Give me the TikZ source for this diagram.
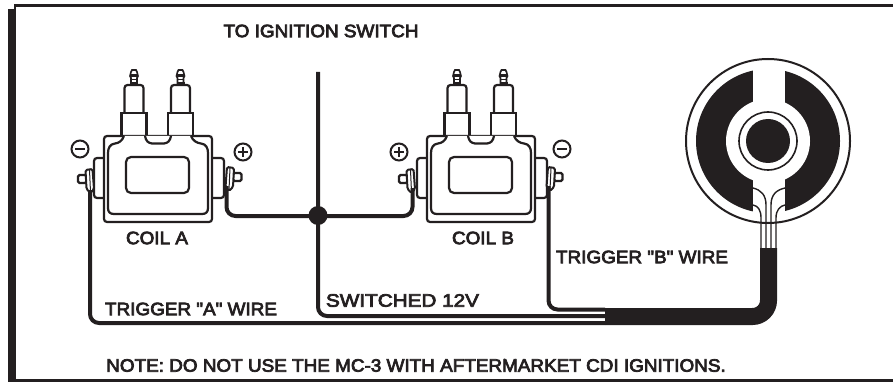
\documentclass[tikz,border=0pt]{standalone}
\usepackage{fontspec}
\setmainfont[Ligatures=NoCommon,Mapping=,RawFeature={embolden=4},FakeStretch=1.05]{Liberation Sans}
\definecolor{inkblack}{HTML}{231F20}
\tikzset{
    wire/.style={draw=inkblack,line width=4pt,rounded corners=9pt},
    part/.style={draw=inkblack,line width=2.2pt,fill=white},
    lbl/.style={text=inkblack,font=\fontsize{18}{18}\selectfont,inner sep=0pt,anchor=center},
}
\newcommand{\coilscrew}[3]{
    \begin{scope}[shift={(#1,#2)},xscale=#3]
        \draw[part,rounded corners=1.5pt] (-11.5,6) rectangle (-3,14);
        \draw[part,line width=2pt,rounded corners=1.5pt] (-4,1) -- (3,0) -- (4.5,20) -- (1,24) -- (-3,20) -- cycle;
        \draw[inkblack,line width=1pt] (0,1) -- (1,23);
    \end{scope}
}
\newcommand{\polneg}[2]{
    \draw[inkblack,line width=2pt] (#1,#2) circle (8.5);
    \draw[inkblack,line width=2.2pt] (#1-5,#2)--(#1+5,#2);
}
\newcommand{\polpos}[2]{
    \draw[inkblack,line width=2pt] (#1,#2) circle (8.5);
    \draw[inkblack,line width=2pt] (#1-5,#2)--(#1+5,#2);
    \draw[inkblack,line width=2pt] (#1,#2-5)--(#1,#2+5);
}
\begin{document}
\begin{tikzpicture}[x=1pt,y=-1pt]
    \useasboundingbox (0,0) rectangle (893,382);

    \fill[inkblack] (8,9.5) rectangle (16,382);
    \fill[inkblack] (14,4) rectangle (893,7);
    \fill[inkblack] (14,4) rectangle (16,10);
    \fill[inkblack] (16,379) rectangle (893,382);

    \foreach \cx in {0,323}{
        \begin{scope}[xshift=\cx pt]
            \draw[part,rounded corners=3pt] (94,158) -- (110,158) -- (110,198) -- (94,198) -- cycle;
            \draw[part,rounded corners=3pt] (206,158) -- (224,158) -- (224,198) -- (206,198) -- cycle;
            \foreach \bx in {134,180.5}{
                \draw[part,line width=1.6pt] (\bx-3,85) -- (\bx-3,78) -- (\bx-4,76) -- (\bx-3,72) -- (\bx-2,70) -- (\bx+2,70) -- (\bx+3,72) -- (\bx+4,76) -- (\bx+3,78) -- (\bx+3,85) -- cycle;
                \fill[inkblack] (\bx-4,74.5) rectangle (\bx+4,77);
                \fill[inkblack] (\bx-3,79) rectangle (\bx+3,80);
                \fill[inkblack] (\bx-4,82) rectangle (\bx+4,85.5);
                \draw[part,rounded corners=3pt] (\bx-9.5,113) -- (\bx-9.5,85) -- (\bx+9.5,85) -- (\bx+9.5,113);
                \draw[part] (\bx-12.5,136) -- (\bx-12.5,113) -- (\bx+12.5,113) -- (\bx+12.5,136);
            }
            \draw[part,rounded corners=3pt] (104,136) rectangle (212,222);
            \draw[part] (124,136) .. controls (122,141) and (119,143) .. (115,143.5)
                .. controls (110,144) and (108,148) .. (108,153) -- (108,208)
                .. controls (108,212) and (110,214) .. (114,214) -- (202,214)
                .. controls (206,214) and (208,212) .. (208,208) -- (208,153)
                .. controls (208,148) and (206,144) .. (201,143.5)
                .. controls (197,143) and (193,141) .. (191,136);
            \draw[inkblack,line width=2.2pt] (145,136) .. controls (146,141) and (148,143) .. (152,143.5) -- (164,143.5)
                .. controls (168,143) and (170,141) .. (171,136);
            \draw[part,rounded corners=5pt] (126,157) rectangle (189,193);
        \end{scope}
    }

    \coilscrew{89.5}{169}{1}
    \coilscrew{230}{167}{-1}
    \coilscrew{410.5}{169}{1}
    \coilscrew{551}{167}{-1}

    \polneg{80}{149}
    \polpos{243}{152}
    \polpos{399}{152}
    \polneg{562}{149}

    \fill[inkblack] (768,141) circle (72);
    \fill[white] (768,141) circle (42);
    \fill[white] (753,65) rectangle (785,217);
    \draw[inkblack,line width=2pt] (768,141) circle (82);
    \draw[inkblack,line width=1.6pt] (768,141) circle (29);
    \fill[inkblack] (768,141) circle (22);

    \draw[inkblack,line width=1.4pt] (753,188) .. controls (761,190) and (766,195) .. (766,205) -- (766,248);
    \draw[inkblack,line width=1.4pt] (785,188) .. controls (776,190) and (771,195) .. (771,205) -- (771,248);
    \draw[inkblack,line width=1.4pt] (753,205) .. controls (758,206) and (761,210) .. (761,218) -- (761,248);
    \draw[inkblack,line width=1.4pt] (785,205) .. controls (780,206) and (776,210) .. (776,218) -- (776,248);

    \coordinate (cableend) at (768.5,248);
    \coordinate (cablestart) at (605,316.5);
    \draw[inkblack,line width=17pt,rounded corners=16pt] (cableend) |- (cablestart);

    \coordinate (negA) at (90,190);
    \coordinate (posA) at (226.5,186);
    \coordinate (posB) at (412.5,188);
    \coordinate (negB) at (548.5,186);
    \coordinate (feedA) at (605,323);
    \coordinate (feedB) at (605,309.5);
    \coordinate (feedS) at (605,316);
    \coordinate (switchtop) at (318,72);

    \draw[wire] (negA) |- (feedA);
    \draw[wire] (negB) |- (feedB);
    \draw[wire] (switchtop) |- (feedS);
    \draw[wire] (posA) |- (318,216) -| (posB);
    \fill[inkblack] (318,215.5) circle (9.5);

    \node[lbl] (ignitionlbl) at(321,31) {TO IGNITION SWITCH};
    \node[lbl] (coilAlbl) at(157,238) {COIL A};
    \node[lbl] (coilBlbl) at(483,238) {COIL B};
    \node[lbl] (triggerBlbl) at(642,257) {TRIGGER "B" WIRE};
    \node[lbl] (triggerAlbl) at(191,309) {TRIGGER "A" WIRE};
    \node[lbl] (switchedlbl) at(402.5,300.5) {\addfontfeature{FakeStretch=1.15}SWITCHED 12V};
    \node[lbl] (notelbl) at(416,365.5) {NOTE: DO NOT USE THE MC-3 WITH AFTERMARKET CDI IGNITIONS.};
\end{tikzpicture}
\end{document}
